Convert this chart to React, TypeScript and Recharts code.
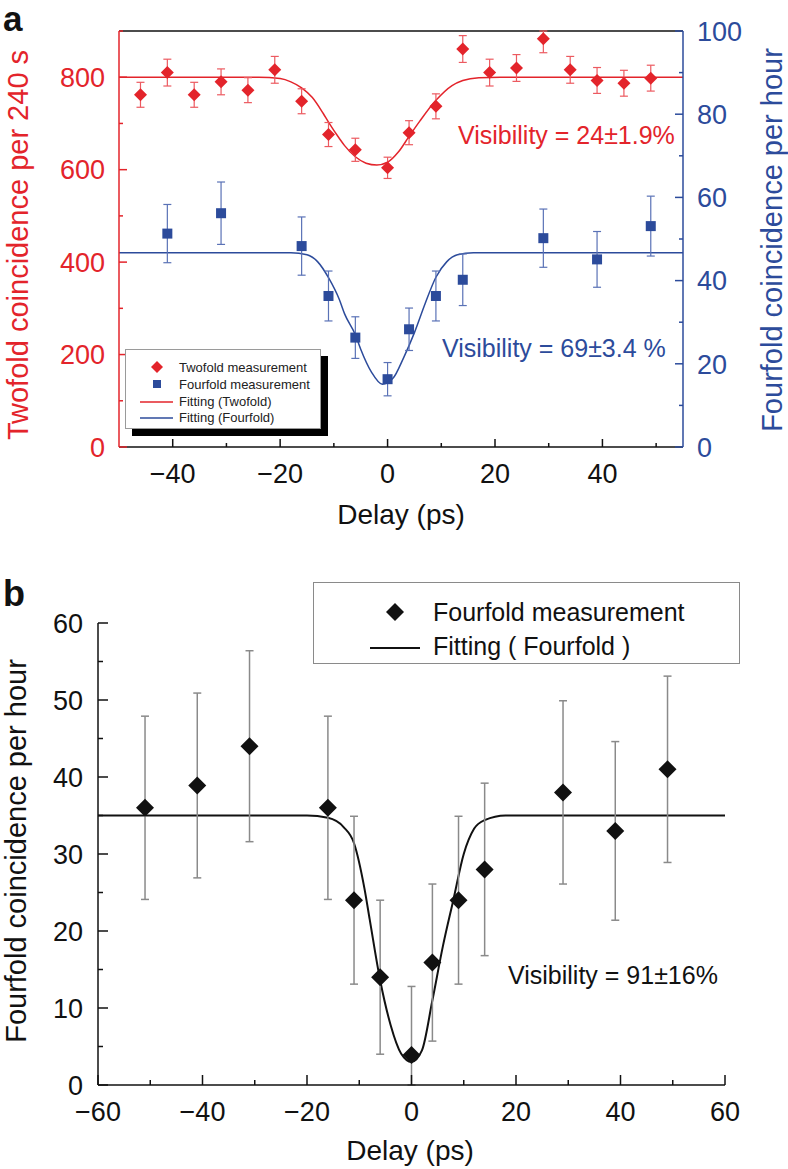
import { ComposedChart, Scatter, Line, XAxis, YAxis, ErrorBar, ReferenceLine, Legend, Label, Customized } from 'recharts'

const FONT = '"Liberation Sans", Arial, Helvetica, sans-serif'
const RED = '#e3242b'
const RED_ERR = '#ec5a60'
const BLUE = '#2c4b9b'
const BLUE_ERR = '#5a72b6'

// panel a – twofold (left axis, counts per 240 s)
const twofoldDelay = [-46, -41, -36, -31, -26, -21, -16, -11, -6, 0, 4, 9, 14, 19, 24, 29, 34, 39, 44, 49]
const twofoldCounts = [762, 810, 762, 790, 772, 816, 748, 676, 643, 604, 680, 737, 861, 810, 820, 883, 816, 793, 787, 798]
const twofoldErr = [27, 29, 27, 28, 27, 29, 27, 26, 25, 23, 26, 27, 29, 29, 29, 17, 29, 28, 28, 28]
const twofoldErrLow = [27, 29, 27, 28, 27, 29, 27, 26, 25, 23, 26, 27, 29, 29, 29, 30, 29, 28, 28, 28]
const twofoldFitDelay = [-50, -24, -20, -18, -16, -14, -12, -11, -9, -8, -6, -4, -2, 0, 2, 4, 6, 9, 12, 14, 17, 21, 55]
const twofoldFit = [800, 800, 797, 790, 777, 756, 722, 703, 668, 652, 628, 614, 610, 616, 638, 672, 705, 750, 782, 793, 799, 800, 800]

// panel a – fourfold (right axis, counts per hour)
const fourfoldDelayA = [-41, -31, -16, -11, -6, 0, 4, 9, 14, 29, 39, 49]
const fourfoldCountsA = [51.3, 56.2, 48.3, 36.3, 26.3, 16.3, 28.3, 36.3, 40.2, 50.2, 45.1, 53.1]
const fourfoldErrA = [7, 7.5, 7, 6, 5, 4, 5.1, 6, 6.2, 7, 6.7, 7.2]
const fourfoldFitDelayA = [-50, -18, -15, -13, -11, -9, -8, -6, -5, -3, -1, 1, 3, 5, 7, 9, 11, 13, 16, 55]
const fourfoldFitA = [46.7, 46.7, 46.2, 44.5, 40.7, 35.5, 32, 27, 23.5, 18, 15.1, 16.5, 21.5, 27.5, 34.5, 40.8, 44.5, 46.2, 46.7, 46.7]

// panel b – fourfold
const fourfoldDelayB = [-51, -41, -31, -16, -11, -6, 0, 4, 9, 14, 29, 39, 49]
const fourfoldCountsB = [36, 38.9, 44, 36, 24, 14, 3.9, 15.9, 24, 28, 38, 33, 41]
const fourfoldErrB = [11.9, 12, 12.4, 11.9, 10.9, 10, 8.9, 10.2, 10.9, 11.2, 11.9, 11.6, 12.1]
const fourfoldErrLowB = [11.9, 12, 12.4, 11.9, 10.9, 10, 3.9, 10.2, 10.9, 11.2, 11.9, 11.6, 12.1]
const fourfoldFitDelayB = [-60, -20, -16, -13, -11, -9, -8, -6, -4, -2, 0, 2, 4, 6, 8, 10, 12, 14, 18, 60]
const fourfoldFitB = [35, 35, 34.7, 33.5, 31.4, 25.5, 21.5, 13.6, 7.8, 4.1, 3, 4.5, 11, 18, 24, 30, 33.3, 34.4, 35, 35]

const twofoldRows = twofoldDelay.map((x, i) => ({ x, y: twofoldCounts[i], err: [twofoldErrLow[i], twofoldErr[i]] }))
const twofoldFitRows = twofoldFitDelay.map((x, i) => ({ x, y: twofoldFit[i] }))
const fourfoldRowsA = fourfoldDelayA.map((x, i) => ({ x, y: fourfoldCountsA[i], err: [fourfoldErrA[i], fourfoldErrA[i]] }))
const fourfoldFitRowsA = fourfoldFitDelayA.map((x, i) => ({ x, y: fourfoldFitA[i] }))
const fourfoldRowsB = fourfoldDelayB.map((x, i) => ({ x, y: fourfoldCountsB[i], err: [fourfoldErrLowB[i], fourfoldErrB[i]] }))
const fourfoldFitRowsB = fourfoldFitDelayB.map((x, i) => ({ x, y: fourfoldFitB[i] }))

const fmt = (v: number) => (v < 0 ? '\u2212' + Math.abs(v) : String(v))

type TickOpts = {
  side: 'left' | 'right' | 'bottom'
  margin: number
  labelled: number[]
  major: number
  minor: number
  color: string
  size: number
}

// ticks point inward, minor ticks are shorter and unlabelled
const makeTick = (o: TickOpts) => (props: any) => {
  const { x, y, payload } = props
  const v = payload.value
  const isMajor = o.labelled.includes(v)
  const len = isMajor ? o.major : o.minor
  let line
  let label
  if (o.side === 'bottom') {
    const ay = y - o.margin
    line = <line x1={x} x2={x} y1={ay} y2={ay - len} stroke={o.color} strokeWidth={1.5} />
    label = <text x={x} y={y} dy="0.36em" textAnchor="middle" fill={o.color} fontSize={o.size} fontFamily={FONT}>{fmt(v)}</text>
  } else if (o.side === 'left') {
    const ax = x + o.margin
    line = <line x1={ax} x2={ax + len} y1={y} y2={y} stroke={o.color} strokeWidth={1.5} />
    label = <text x={x} y={y} dy="0.36em" textAnchor="end" fill={o.color} fontSize={o.size} fontFamily={FONT}>{fmt(v)}</text>
  } else {
    const ax = x - o.margin
    line = <line x1={ax} x2={ax - len} y1={y} y2={y} stroke={o.color} strokeWidth={1.5} />
    label = <text x={x} y={y} dy="0.36em" textAnchor="start" fill={o.color} fontSize={o.size} fontFamily={FONT}>{fmt(v)}</text>
  }
  return (
    <g>
      {line}
      {isMajor && label}
    </g>
  )
}

const diamond = (size: number, fill: string) => (props: any) => {
  const { cx, cy } = props
  const h = size / 2
  return <path d={`M${cx},${cy - h}L${cx + h},${cy}L${cx},${cy + h}L${cx - h},${cy}Z`} fill={fill} />
}

const square = (size: number, fill: string) => (props: any) => {
  const { cx, cy } = props
  return <rect x={cx - size / 2} y={cy - size / 2} width={size} height={size} fill={fill} />
}

const vTitle = (x: number, y: number, text: string, color: string, size: number) => () => (
  <text x={x} y={y} transform={`rotate(-90 ${x} ${y})`} textAnchor="middle" fill={color} fontSize={size} fontFamily={FONT}>
    {text}
  </text>
)

const hTitle = (x: number, y: number, text: string, size: number) => () => (
  <text x={x} y={y} textAnchor="middle" fill="#111" fontSize={size} fontFamily={FONT}>
    {text}
  </text>
)

const LegendA = () => (
  <div style={{ position: 'relative', width: 203, height: 87 }}>
    <div style={{ position: 'absolute', left: 7, top: 7, width: 196, height: 80, background: '#000' }} />
    <svg style={{ position: 'absolute', left: 0, top: 0 }} width={196} height={80}>
      <rect x={0.5} y={0.5} width={195} height={79} fill="#fff" stroke="#9a9a9a" />
      <path d="M32,12L38,18L32,24L26,18Z" fill={RED} />
      <rect x={28} y={31} width={8} height={8} fill={BLUE} />
      <line x1={15} x2={48} y1={53} y2={53} stroke={RED} strokeWidth={1.5} />
      <line x1={15} x2={48} y1={69} y2={69} stroke={BLUE} strokeWidth={1.5} />
      <g fontFamily={FONT} fontSize={13} fill="#222">
        <text x={54} y={18} dy="0.36em">Twofold measurement</text>
        <text x={54} y={35} dy="0.36em">Fourfold measurement</text>
        <text x={54} y={52} dy="0.36em">Fitting (Twofold)</text>
        <text x={54} y={68} dy="0.36em">Fitting (Fourfold)</text>
      </g>
    </svg>
  </div>
)

const LegendB = () => (
  <svg width={427} height={82}>
    <rect x={0.5} y={0.5} width={426} height={81} fill="#fff" stroke="#8a8a8a" />
    <path d="M82,21L91,30L82,39L73,30Z" fill="#111" />
    <line x1={57} x2={107} y1={66} y2={66} stroke="#111" strokeWidth={2} />
    <g fontFamily={FONT} fontSize={25} fill="#111">
      <text x={120} y={30} dy="0.36em">Fourfold measurement</text>
      <text x={120} y={64} dy="0.36em">Fitting ( Fourfold )</text>
    </g>
  </svg>
)

const AnnotA = () => (
  <g fontFamily={FONT}>
    <text x={3} y={31} fontSize={35} fontWeight="bold" fill="#111">a</text>
    <text x={458} y={144} fontSize={25} fill={RED}>Visibility = 24±1.9%</text>
    <text x={442} y={357} fontSize={25} fill={BLUE}>Visibility = 69±3.4 %</text>
  </g>
)

const AnnotB = () => (
  <g fontFamily={FONT}>
    <text x={3} y={61} fontSize={36} fontWeight="bold" fill="#111">b</text>
    <text x={508} y={439} fontSize={25} fill="#111">Visibility = 91±16%</text>
  </g>
)

export default function App() {
  return (
    <div style={{ position: 'absolute', left: 0, top: 0, width: 788, height: 1169, background: '#fff' }}>
      <ComposedChart width={788} height={545} margin={{ top: 31, right: 0, bottom: 0, left: 0 }}>
        <XAxis
          dataKey="x"
          type="number"
          domain={[-50, 55]}
          ticks={[-40, -30, -20, -10, 0, 10, 20, 30, 40, 50]}
          interval={0}
          height={98}
          allowDataOverflow
          stroke="#111"
          strokeWidth={1.5}
          tickLine={false}
          tickSize={0}
          tickMargin={26}
          tick={makeTick({ side: 'bottom', margin: 26, labelled: [-40, -20, 0, 20, 40], major: 8, minor: 4, color: '#111', size: 27 })}
        >
          <Label content={hTitle(401, 524, 'Delay (ps)', 28)} />
        </XAxis>
        <YAxis
          yAxisId="left"
          type="number"
          domain={[0, 900]}
          ticks={[0, 100, 200, 300, 400, 500, 600, 700, 800, 900]}
          interval={0}
          width={119}
          allowDataOverflow
          stroke={RED}
          strokeWidth={1.5}
          tickLine={false}
          tickSize={0}
          tickMargin={14}
          tick={makeTick({ side: 'left', margin: 14, labelled: [0, 200, 400, 600, 800], major: 8, minor: 4, color: RED, size: 27 })}
        >
          <Label content={vTitle(28, 245, 'Twofold coincidence per 240 s', RED, 29)} />
        </YAxis>
        <YAxis
          yAxisId="right"
          orientation="right"
          type="number"
          domain={[0, 100]}
          ticks={[0, 10, 20, 30, 40, 50, 60, 70, 80, 90, 100]}
          interval={0}
          width={105}
          allowDataOverflow
          stroke={BLUE}
          strokeWidth={1.5}
          tickLine={false}
          tickSize={0}
          tickMargin={14}
          tick={makeTick({ side: 'right', margin: 14, labelled: [0, 20, 40, 60, 80, 100], major: 8, minor: 4, color: BLUE, size: 27 })}
        >
          <Label content={vTitle(782, 240, 'Fourfold coincidence per hour', BLUE, 29)} />
        </YAxis>
        <ReferenceLine yAxisId="left" y={900} stroke="#111" strokeWidth={1.5} />
        <Line
          yAxisId="left"
          data={twofoldFitRows}
          dataKey="y"
          type="monotone"
          stroke={RED}
          strokeWidth={1.5}
          dot={false}
          isAnimationActive={false}
        />
        <Line
          yAxisId="right"
          data={fourfoldFitRowsA}
          dataKey="y"
          type="monotone"
          stroke={BLUE}
          strokeWidth={1.5}
          dot={false}
          isAnimationActive={false}
        />
        <Scatter yAxisId="left" data={twofoldRows} dataKey="y" shape={diamond(13, RED)} isAnimationActive={false}>
          <ErrorBar dataKey="err" direction="y" width={4} stroke={RED_ERR} strokeWidth={1.2} />
        </Scatter>
        <Scatter yAxisId="right" data={fourfoldRowsA} dataKey="y" shape={square(10, BLUE)} isAnimationActive={false}>
          <ErrorBar dataKey="err" direction="y" width={4} stroke={BLUE_ERR} strokeWidth={1.2} />
        </Scatter>
        <Legend
          layout="vertical"
          align="center"
          verticalAlign="middle"
          wrapperStyle={{ left: 125, top: 349, width: 203, height: 87 }}
          content={LegendA}
        />
        <Customized component={AnnotA} />
      </ComposedChart>

      <ComposedChart width={788} height={624} margin={{ top: 78, right: 63, bottom: 0, left: 0 }}>
        <XAxis
          dataKey="x"
          type="number"
          domain={[-60, 60]}
          ticks={[-60, -50, -40, -30, -20, -10, 0, 10, 20, 30, 40, 50, 60]}
          interval={0}
          height={84}
          allowDataOverflow
          stroke="#111"
          strokeWidth={1.5}
          tickLine={false}
          tickSize={0}
          tickMargin={26}
          tick={makeTick({ side: 'bottom', margin: 26, labelled: [-60, -40, -20, 0, 20, 40, 60], major: 10, minor: 5, color: '#111', size: 27 })}
        >
          <Label content={hTitle(410, 615, 'Delay (ps)', 28)} />
        </XAxis>
        <YAxis
          type="number"
          domain={[0, 60]}
          ticks={[0, 5, 10, 15, 20, 25, 30, 35, 40, 45, 50, 55, 60]}
          interval={0}
          width={98}
          allowDataOverflow
          stroke="#111"
          strokeWidth={1.5}
          tickLine={false}
          tickSize={0}
          tickMargin={15}
          tick={makeTick({ side: 'left', margin: 15, labelled: [0, 10, 20, 30, 40, 50, 60], major: 10, minor: 5, color: '#111', size: 27 })}
        >
          <Label content={vTitle(26, 306, 'Fourfold coincidence per hour', '#111', 29)} />
        </YAxis>
        <Line
          data={fourfoldFitRowsB}
          dataKey="y"
          type="monotone"
          stroke="#111"
          strokeWidth={2}
          dot={false}
          isAnimationActive={false}
        />
        <Scatter data={fourfoldRowsB} dataKey="y" shape={diamond(18, '#111')} isAnimationActive={false}>
          <ErrorBar dataKey="err" direction="y" width={4} stroke="#8a8a8a" strokeWidth={1.5} />
        </Scatter>
        <Legend
          layout="vertical"
          align="center"
          verticalAlign="middle"
          wrapperStyle={{ left: 313, top: 37, width: 427, height: 82 }}
          content={LegendB}
        />
        <Customized component={AnnotB} />
      </ComposedChart>
    </div>
  )
}
